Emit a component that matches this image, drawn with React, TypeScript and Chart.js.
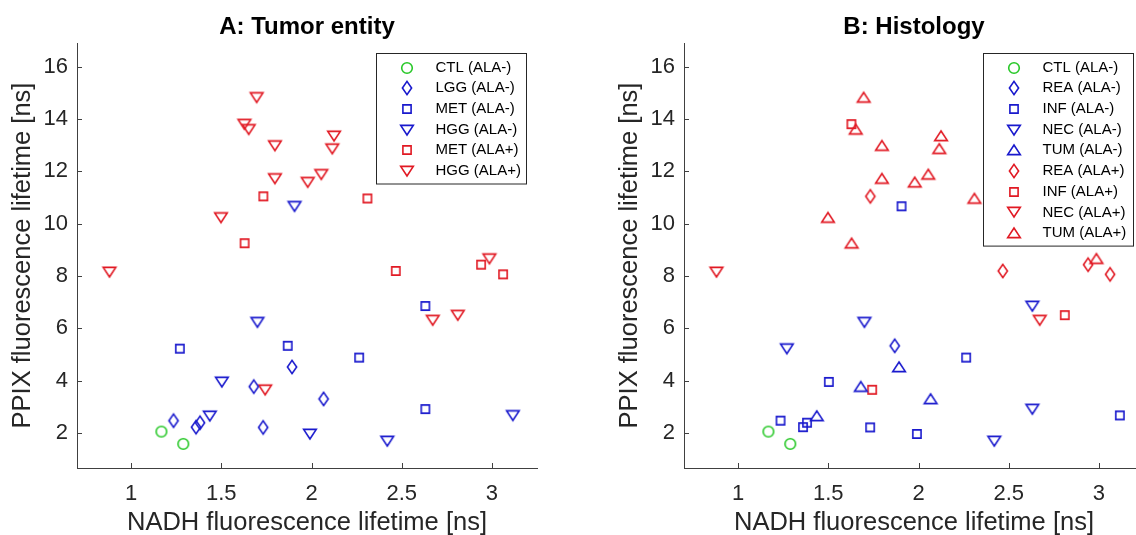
import React, { useEffect, useRef } from 'react';
import { Chart, registerables } from 'chart.js';

Chart.register(...registerables);

type Pt = [number, number];

// ---- axis setup ----
const xTicks = [1, 1.5, 2, 2.5, 3];
const yTicks = [2, 4, 6, 8, 10, 12, 14, 16];
const xLimits = [0.7, 3.25];
const yLimits = [0.66, 16.9];

const xTitle = 'NADH fluorescence lifetime [ns]';
const yTitle = 'PPIX fluorescence lifetime [ns]';
const titleA = 'A: Tumor entity';
const titleB = 'B: Histology';

// ---- Panel A: tumor entity ----
const aCtlMinus: Pt[] = [[1.168, 2.05], [1.289, 1.58]];
const aLggMinus: Pt[] = [[1.892, 4.52], [2.067, 3.3], [1.68, 3.77], [1.235, 2.47], [1.36, 2.22], [1.382, 2.39], [1.732, 2.21]];
const aMetMinus: Pt[] = [[2.631, 6.85], [1.868, 5.33], [2.264, 4.88], [2.631, 2.91], [1.27, 5.22]];
const aHggMinus: Pt[] = [[1.906, 10.66], [3.116, 2.67], [1.991, 1.96], [2.42, 1.69], [1.7, 6.23], [1.503, 3.95], [1.436, 2.65]];
const aMetPlus: Pt[] = [[1.733, 11.04], [1.629, 9.25], [2.31, 10.96], [2.467, 8.19], [2.94, 8.43], [3.062, 8.06]];
const aHggPlus: Pt[] = [[0.88, 8.15], [1.696, 14.82], [1.628, 13.8], [1.652, 13.6], [1.797, 12.98], [1.797, 11.72], [1.498, 10.23], [2.125, 13.35], [2.115, 12.86], [2.054, 11.88], [1.979, 11.58], [2.986, 8.66], [2.672, 6.31], [2.811, 6.5], [1.743, 3.65]];

// ---- Panel B: histology ----
const bCtlMinus: Pt[] = [[1.168, 2.05], [1.289, 1.58]];
const bReaMinus: Pt[] = [[1.868, 5.33]];
const bInfMinus: Pt[] = [[1.906, 10.66], [2.264, 4.88], [3.116, 2.67], [1.991, 1.96], [1.503, 3.95], [1.235, 2.47], [1.36, 2.22], [1.382, 2.39], [1.732, 2.21]];
const bNecMinus: Pt[] = [[2.631, 6.85], [2.631, 2.91], [2.42, 1.69], [1.7, 6.23], [1.27, 5.22]];
const bTumMinus: Pt[] = [[1.892, 4.52], [2.067, 3.3], [1.68, 3.77], [1.436, 2.65]];
const bReaPlus: Pt[] = [[1.733, 11.04], [2.467, 8.19], [2.94, 8.43], [3.062, 8.06]];
const bInfPlus: Pt[] = [[1.628, 13.8], [2.811, 6.5], [1.743, 3.65]];
const bNecPlus: Pt[] = [[0.88, 8.15], [2.672, 6.31]];
const bTumPlus: Pt[] = [[1.696, 14.82], [1.652, 13.6], [1.797, 12.98], [1.797, 11.72], [1.498, 10.23], [1.629, 9.25], [2.125, 13.35], [2.115, 12.86], [2.054, 11.88], [1.979, 11.58], [2.31, 10.96], [2.986, 8.66]];

const GREEN = 'rgb(40,200,40)';
const BLUE = 'rgb(25,25,205)';
const RED = 'rgb(225,25,35)';
const FONT = "'Liberation Sans', Arial, Helvetica, sans-serif";
const AXIS = '#404040';
const TEXT = '#262626';

type Shape = 'circle' | 'diamond' | 'square' | 'tdown' | 'tup';
type Series = { label: string; points: Pt[]; shape: Shape; color: string };

const seriesA: Series[] = [
  { label: 'CTL (ALA-)', points: aCtlMinus, shape: 'circle', color: GREEN },
  { label: 'LGG (ALA-)', points: aLggMinus, shape: 'diamond', color: BLUE },
  { label: 'MET (ALA-)', points: aMetMinus, shape: 'square', color: BLUE },
  { label: 'HGG (ALA-)', points: aHggMinus, shape: 'tdown', color: BLUE },
  { label: 'MET (ALA+)', points: aMetPlus, shape: 'square', color: RED },
  { label: 'HGG (ALA+)', points: aHggPlus, shape: 'tdown', color: RED },
];

const seriesB: Series[] = [
  { label: 'CTL (ALA-)', points: bCtlMinus, shape: 'circle', color: GREEN },
  { label: 'REA (ALA-)', points: bReaMinus, shape: 'diamond', color: BLUE },
  { label: 'INF (ALA-)', points: bInfMinus, shape: 'square', color: BLUE },
  { label: 'NEC (ALA-)', points: bNecMinus, shape: 'tdown', color: BLUE },
  { label: 'TUM (ALA-)', points: bTumMinus, shape: 'tup', color: BLUE },
  { label: 'REA (ALA+)', points: bReaPlus, shape: 'diamond', color: RED },
  { label: 'INF (ALA+)', points: bInfPlus, shape: 'square', color: RED },
  { label: 'NEC (ALA+)', points: bNecPlus, shape: 'tdown', color: RED },
  { label: 'TUM (ALA+)', points: bTumPlus, shape: 'tup', color: RED },
];

function makeMarker(shape: Shape, color: string): HTMLCanvasElement {
  const c = document.createElement('canvas');
  c.width = 18;
  c.height = 18;
  const ctx = c.getContext('2d')!;
  const m = 9;
  ctx.strokeStyle = color;
  ctx.lineWidth = 1.6;
  ctx.lineJoin = 'miter';
  ctx.beginPath();
  if (shape === 'circle') {
    ctx.arc(m, m, 5.3, 0, Math.PI * 2);
  } else if (shape === 'diamond') {
    ctx.moveTo(m, m - 6.6);
    ctx.lineTo(m + 4.6, m);
    ctx.lineTo(m, m + 6.6);
    ctx.lineTo(m - 4.6, m);
    ctx.closePath();
  } else if (shape === 'square') {
    ctx.rect(m - 4.1, m - 4.1, 8.2, 8.2);
  } else if (shape === 'tdown') {
    ctx.moveTo(m - 6.3, m - 4.6);
    ctx.lineTo(m + 6.3, m - 4.6);
    ctx.lineTo(m, m + 5);
    ctx.closePath();
  } else {
    ctx.moveTo(m - 6.3, m + 4.6);
    ctx.lineTo(m + 6.3, m + 4.6);
    ctx.lineTo(m, m - 5);
    ctx.closePath();
  }
  ctx.stroke();
  return c;
}

const inwardTicks = {
  id: 'inwardTicks',
  afterDraw(chart: any) {
    const { ctx, chartArea, scales } = chart;
    ctx.save();
    ctx.strokeStyle = AXIS;
    ctx.lineWidth = 1;
    ctx.beginPath();
    xTicks.forEach((v) => {
      const px = Math.round(scales.x.getPixelForValue(v)) + 0.5;
      ctx.moveTo(px, chartArea.bottom);
      ctx.lineTo(px, chartArea.bottom - 5);
    });
    yTicks.forEach((v) => {
      const py = Math.round(scales.y.getPixelForValue(v)) + 0.5;
      ctx.moveTo(chartArea.left, py);
      ctx.lineTo(chartArea.left + 5, py);
    });
    ctx.stroke();
    ctx.restore();
  },
};

const boxLegend = {
  id: 'boxLegend',
  afterDraw(chart: any) {
    const { ctx, chartArea } = chart;
    const ds = chart.data.datasets;
    const rowH = 20.7;
    const w = 150;
    const h = 27 + (ds.length - 1) * rowH;
    const right = chartArea.right - 11;
    const left = Math.round(right - w) + 0.5;
    const top = Math.round(chartArea.top + 10) + 0.5;
    ctx.save();
    ctx.fillStyle = '#ffffff';
    ctx.fillRect(left, top, w, h);
    ctx.strokeStyle = TEXT;
    ctx.lineWidth = 1;
    ctx.strokeRect(left, top, w, h);
    ctx.font = `15px ${FONT}`;
    ctx.textBaseline = 'middle';
    ctx.textAlign = 'left';
    ctx.fillStyle = '#000';
    ds.forEach((d: any, i: number) => {
      const cy = top + 14 + i * rowH;
      const img = d.pointStyle as HTMLCanvasElement;
      ctx.drawImage(img, Math.round(left + 30 - img.width / 2), Math.round(cy - img.height / 2));
      ctx.fillText(d.label, left + 59, cy);
    });
    ctx.restore();
  },
};

function buildConfig(title: string, series: Series[]): any {
  const datasets = series.map((s) => ({
    label: s.label,
    data: s.points.map(([x, y]) => ({ x, y })),
    pointStyle: makeMarker(s.shape, s.color),
    borderColor: s.color,
    backgroundColor: 'transparent',
  }));
  return {
    type: 'scatter',
    data: { datasets },
    options: {
      responsive: false,
      animation: false,
      events: [],
      layout: { padding: { left: 0, right: 31, top: 0, bottom: 0 } },
      plugins: {
        legend: { display: false },
        tooltip: { enabled: false },
        title: {
          display: true,
          text: title,
          fullSize: false,
          color: '#000',
          font: { family: FONT, size: 24, weight: 'bold', lineHeight: 1.2 },
          padding: { top: 12.5, bottom: 1.7 },
        },
      },
      scales: {
        x: {
          type: 'linear',
          min: xLimits[0],
          max: xLimits[1],
          grid: { display: false, drawTicks: false, tickLength: 0 },
          border: { display: true, color: AXIS, width: 1 },
          afterBuildTicks: (s: any) => {
            s.ticks = xTicks.map((v) => ({ value: v }));
          },
          ticks: {
            color: TEXT,
            font: { family: FONT, size: 22 },
            padding: 13,
            autoSkip: false,
            maxRotation: 0,
            callback: (v: number) => String(v),
          },
          title: {
            display: true,
            text: xTitle,
            color: TEXT,
            font: { family: FONT, size: 25.5, lineHeight: 0.92 },
            padding: 0,
          },
          afterFit: (s: any) => {
            s.height = 67;
          },
        },
        y: {
          type: 'linear',
          min: yLimits[0],
          max: yLimits[1],
          grid: { display: false, drawTicks: false, tickLength: 0 },
          border: { display: true, color: AXIS, width: 1 },
          afterBuildTicks: (s: any) => {
            s.ticks = yTicks.map((v) => ({ value: v }));
          },
          ticks: {
            color: TEXT,
            font: { family: FONT, size: 22 },
            padding: 9,
            autoSkip: false,
            callback: (v: number) => String(v),
          },
          title: {
            display: true,
            text: yTitle,
            color: TEXT,
            font: { family: FONT, size: 25.5, lineHeight: 1.2 },
            padding: { top: 8, bottom: 0 },
          },
          afterFit: (s: any) => {
            s.width = 77;
          },
        },
      },
    },
    plugins: [inwardTicks, boxLegend],
  };
}

function Panel({ left, title, series }: { left: number; title: string; series: Series[] }) {
  const ref = useRef<HTMLCanvasElement>(null);
  useEffect(() => {
    const chart = new Chart(ref.current as HTMLCanvasElement, buildConfig(title, series));
    return () => chart.destroy();
  }, [title, series]);
  return (
    <canvas
      ref={ref}
      width={568}
      height={535}
      style={{ position: 'absolute', left, top: 0, width: 568, height: 535 }}
    />
  );
}

export default function App() {
  return (
    <div
      style={{
        position: 'absolute',
        left: 0,
        top: 0,
        width: 1136,
        height: 535,
        overflow: 'hidden',
        background: '#fff',
      }}
    >
      <Panel left={0} title={titleA} series={seriesA} />
      <Panel left={607} title={titleB} series={seriesB} />
    </div>
  );
}
